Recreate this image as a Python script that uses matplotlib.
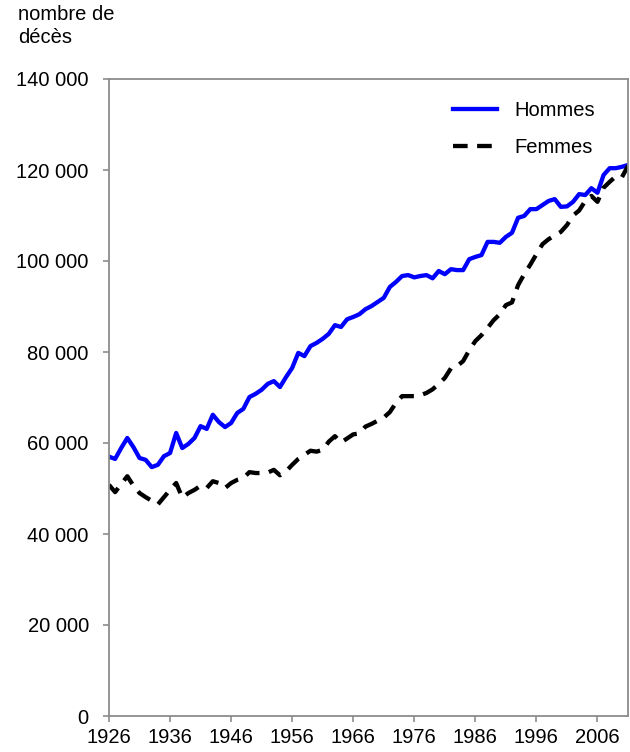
import matplotlib
matplotlib.use("Agg")
import matplotlib.pyplot as plt
from matplotlib.ticker import FuncFormatter, MultipleLocator

plt.rcParams['font.family'] = ['Liberation Sans', 'DejaVu Sans']

years = list(range(1926, 2012))

hommes = [57000, 56500, 58900, 61100, 59100, 56700, 56300, 54700, 55200, 57100,
          57800, 62200, 58900, 59800, 61100, 63700, 63100, 66200, 64600, 63500,
          64400, 66600, 67500, 70100, 70800, 71700, 73000, 73600, 72300, 74500,
          76500, 79800, 79100, 81300, 82000, 82900, 84000, 85900, 85500, 87200,
          87700, 88300, 89400, 90100, 91000, 91900, 94300, 95400, 96700, 96900,
          96400, 96700, 96900, 96200, 97800, 97100, 98200, 98000, 98000, 100400,
          100900, 101300, 104200, 104200, 104000, 105300, 106200, 109500, 109900, 111400,
          111400, 112300, 113200, 113600, 111900, 112000, 113000, 114700, 114500, 116000,
          115000, 118900, 120400, 120400, 120700, 121100]

femmes = [50800, 49200, 51000, 52700, 50600, 49000, 48100, 47300, 46500, 48100,
          49700, 51200, 48000, 49000, 49700, 50600, 50100, 51600, 51200, 50100,
          51200, 51900, 52300, 53600, 53400, 53400, 53500, 54100, 52900, 53800,
          55200, 56500, 57400, 58300, 58100, 58500, 60300, 61500, 60100, 61000,
          61900, 62100, 63600, 64200, 64900, 65600, 66800, 68800, 70300, 70300,
          70300, 70500, 71000, 71800, 73000, 74300, 76400, 76900, 78000, 80400,
          82400, 83700, 85300, 87000, 88300, 90300, 90900, 94700, 97100, 99200,
          101500, 103700, 104800, 105600, 106400, 107900, 110000, 111100, 113200, 114300,
          113000, 116100, 117400, 118600, 118400, 120900]

xticks = list(range(1926, 2007, 10))

fig = plt.figure(figsize=(6.3, 7.52), dpi=100)
ax = fig.add_axes([109/630, 1 - 716/752, (628 - 109)/630, (716 - 79)/752])

ax.plot(years, hommes, color='#0000FF', lw=3.1, label='Hommes', solid_joinstyle='round')
ax.plot(years, femmes, color='black', lw=3.1, dashes=(3.4, 2.2), label='Femmes')

ax.set_xlim(1926, 2011)
ax.set_ylim(0, 140000)
ax.set_xticks(xticks)
ax.yaxis.set_major_locator(MultipleLocator(20000))
ax.yaxis.set_major_formatter(FuncFormatter(lambda v, p: f"{int(v):,}".replace(",", " ")))

gray = '#8c8c8c'
for s in ax.spines.values():
    s.set_color(gray)
    s.set_linewidth(1.3)
ax.tick_params(axis='both', direction='out', length=4.5, width=1.2, color=gray,
               labelsize=14.5, labelcolor='black')
ax.tick_params(axis='y', pad=10)
ax.tick_params(axis='x', pad=4)

fig.text(18/630, 1 - 5/752, "nombre de\ndécès", ha='left', va='top', fontsize=14.5,
         linespacing=1.25)

leg = ax.legend(loc='upper left', bbox_to_anchor=(453/630, 1 - 101/752),
                bbox_transform=fig.transFigure, frameon=False, fontsize=14.5,
                handlelength=2.2, handletextpad=0.85, labelspacing=0.9,
                borderpad=0, borderaxespad=0)

fig.savefig("out.png", dpi=100)
